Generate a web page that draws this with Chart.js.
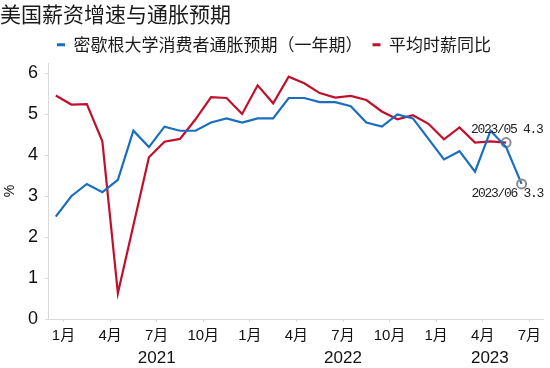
<!DOCTYPE html>
<html>
<head>
<meta charset="utf-8">
<script src="https://cdn.jsdelivr.net/npm/chart.js@4.4.0/dist/chart.umd.min.js"></script>
<style>
  html, body { margin: 0; padding: 0; background: #fff; }
  #wrap { width: 550px; height: 368px; }
</style>
</head>
<body>
<div id="wrap"><canvas id="chart"></canvas></div>
<script>
// Data
// **************************************
const months = [
  '2020/12', '2021/01', '2021/02', '2021/03', '2021/04', '2021/05', '2021/06',
  '2021/07', '2021/08', '2021/09', '2021/10', '2021/11', '2021/12',
  '2022/01', '2022/02', '2022/03', '2022/04', '2022/05', '2022/06',
  '2022/07', '2022/08', '2022/09', '2022/10', '2022/11', '2022/12',
  '2023/01', '2023/02', '2023/03', '2023/04', '2023/05', '2023/06',
];
// 密歇根大学一年期通胀预期, Dec 2020 - Jun 2023
const michiganExp = [
  2.5, 3.0, 3.3, 3.1, 3.4, 4.6, 4.2, 4.7, 4.6, 4.6, 4.8, 4.9, 4.8,
  4.9, 4.9, 5.4, 5.4, 5.3, 5.3, 5.2, 4.8, 4.7, 5.0, 4.9, 4.4,
  3.9, 4.1, 3.6, 4.6, 4.2, 3.3,
];
// 平均时薪同比, Dec 2020 - May 2023
const wageYoY = [
  5.46, 5.24, 5.25, 4.34, 0.63, 2.29, 3.95, 4.33, 4.40, 4.88, 5.42, 5.40, 5.01,
  5.71, 5.27, 5.92, 5.76, 5.52, 5.41, 5.45, 5.35, 5.07, 4.88, 4.98, 4.77,
  4.39, 4.68, 4.31, 4.34, 4.31,
];
const seriesNames = ['密歇根大学消费者通胀预期（一年期）', '平均时薪同比'];
const xTickLabels = ['1月', '4月', '7月', '10月', '1月', '4月', '7月', '10月', '1月', '4月', '7月'];
const yearLabels = ['2021', '2022', '2023'];
const yTicks = [0, 1, 2, 3, 4, 5, 6];

// tick k sits on the boundary before month 1 + 3k (Jan 2021 = index 1)
const xTickPos = xTickLabels.map((l, k) => 1 + 3 * k - 0.5);

const BLUE = '#1a6ec0';
const RED = '#c0102c';
const AXIS = '#d9d9d9';
const CJK = "'Noto Sans CJK SC', sans-serif";

// circled points + their labels
const marks = [
  { ds: 1, idx: 29, dx: -35, dy: -13 },
  { ds: 0, idx: 30, dx: -50, dy: 10 },
];

function markRadius(dsIndex) {
  return (ctx) => marks.some((m) => m.ds === dsIndex && m.idx === ctx.dataIndex) ? 4.5 : 0;
}

const toXY = (arr) => arr.map((v, i) => ({ x: i, y: v }));

// Extra drawing: year row and point labels
// **************************************
const extras = {
  id: 'extras',
  afterDraw(chart) {
    const { ctx } = chart;
    const xs = chart.scales.x;
    ctx.save();
    ctx.fillStyle = '#111';
    ctx.textAlign = 'center';
    ctx.textBaseline = 'middle';
    ctx.font = "17px 'Liberation Sans', Arial, sans-serif";
    yearLabels.forEach((yr, k) => {
      const start = xTickPos[k * 4];
      const end = k * 4 + 4 < xTickPos.length ? xTickPos[k * 4 + 4] : xs.max;
      const cx = (xs.getPixelForValue(start) + xs.getPixelForValue(end)) / 2;
      ctx.fillText(yr, cx, xs.top + 39);
    });

    ctx.textAlign = 'left';
    ctx.font = "13px 'Liberation Mono', monospace";
    ctx.letterSpacing = '-1.3px';
    ctx.fillStyle = '#222';
    marks.forEach((m) => {
      const pt = chart.getDatasetMeta(m.ds).data[m.idx];
      const val = chart.data.datasets[m.ds].data[m.idx].y;
      const text = `${months[m.idx]} ${val.toFixed(1)}`;
      ctx.fillText(text, pt.x + m.dx, pt.y + m.dy);
    });
    ctx.restore();
  },
};

// Config
// **************************************
const config = {
  type: 'line',
  data: {
    datasets: [
      {
        label: seriesNames[0],
        data: toXY(michiganExp),
        borderColor: BLUE,
        backgroundColor: BLUE,
        borderWidth: 2.2,
        pointRadius: markRadius(0),
        pointBorderColor: '#8c8c8c',
        pointBackgroundColor: 'rgba(0,0,0,0)',
        pointBorderWidth: 2,
        tension: 0,
      },
      {
        label: seriesNames[1],
        data: toXY(wageYoY),
        borderColor: RED,
        backgroundColor: RED,
        borderWidth: 2.2,
        pointRadius: markRadius(1),
        pointBorderColor: '#8c8c8c',
        pointBackgroundColor: 'rgba(0,0,0,0)',
        pointBorderWidth: 2,
        tension: 0,
      },
    ],
  },
  options: {
    responsive: true,
    maintainAspectRatio: false,
    animation: false,
    events: [],
    layout: { padding: { left: 0, right: 2, top: 0, bottom: 0 } },
    plugins: {
      title: {
        display: true,
        text: '美国薪资增速与通胀预期',
        align: 'start',
        color: '#1a1a1a',
        font: { family: CJK, size: 21, weight: 'normal' },
        padding: { top: 1, bottom: 0 },
      },
      legend: {
        display: true,
        position: 'top',
        labels: {
          boxWidth: 8,
          boxHeight: 3,
          padding: 10,
          color: '#1a1a1a',
          font: { family: CJK, size: 17 },
          generateLabels: (chart) => {
            const items = Chart.defaults.plugins.legend.labels.generateLabels(chart);
            items.forEach((it) => { it.lineWidth = 0; });
            return items;
          },
        },
      },
      tooltip: { enabled: false },
    },
    scales: {
      x: {
        type: 'linear',
        min: -0.5,
        max: 31.41,
        afterFit: (scale) => { scale.height = 49; },
        afterBuildTicks: (scale) => {
          scale.ticks = xTickPos.map((v) => ({ value: v }));
        },
        grid: { display: true, drawOnChartArea: false, tickLength: 3, color: AXIS },
        border: { color: AXIS, width: 1 },
        ticks: {
          autoSkip: false,
          maxRotation: 0,
          padding: 5,
          color: '#111',
          font: { family: "'Liberation Sans', 'Noto Sans CJK SC', sans-serif", size: 15 },
          callback: (value) => {
            const k = xTickPos.indexOf(value);
            return k >= 0 ? xTickLabels[k] : '';
          },
        },
      },
      y: {
        min: 0,
        max: 6.25,
        afterFit: (scale) => { scale.width = 48; },
        afterBuildTicks: (scale) => {
          scale.ticks = yTicks.map((v) => ({ value: v }));
        },
        grid: { display: true, drawOnChartArea: false, tickLength: 3, color: AXIS },
        border: { color: AXIS, width: 1 },
        title: {
          display: true,
          text: '%',
          color: '#111',
          font: { family: "'Liberation Sans', Arial, sans-serif", size: 14 },
          padding: { top: 2, bottom: 0 },
        },
        ticks: {
          padding: 7,
          color: '#111',
          font: { family: "'Liberation Sans', Arial, sans-serif", size: 18 },
        },
      },
    },
  },
  plugins: [extras],
};

// Render
new Chart(document.getElementById('chart'), config);
</script>
</body>
</html>
